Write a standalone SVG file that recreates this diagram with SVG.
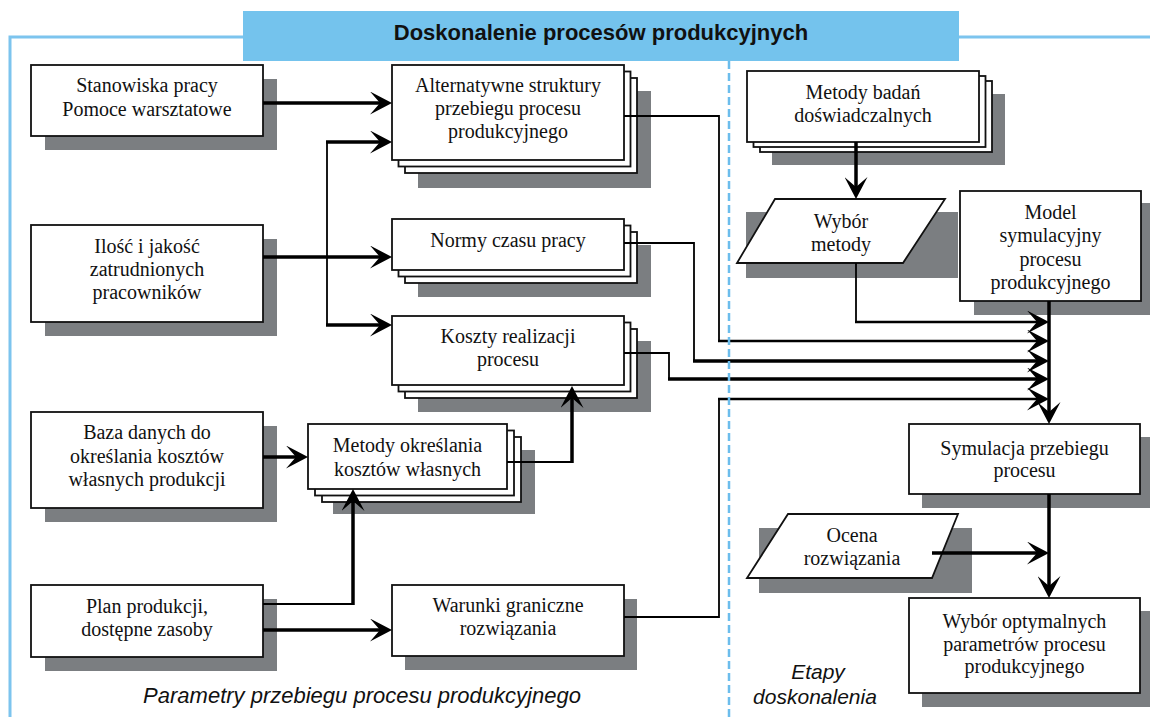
<svg xmlns="http://www.w3.org/2000/svg" width="1150" height="717" viewBox="0 0 1150 717">
<defs>
<style>
.sh{fill:#7b7e81;stroke:none}
.bx{fill:#fff;stroke:#111;stroke-width:1.8}
.t{font-family:"Liberation Serif","Times New Roman",serif;font-size:20px;fill:#111;text-anchor:middle}
.it{font-family:"Liberation Sans",Arial,sans-serif;font-size:22px;font-style:italic;fill:#111;text-anchor:middle}
.it2{font-family:"Liberation Sans",Arial,sans-serif;font-size:21px;font-style:italic;fill:#111;text-anchor:middle}
.thin{fill:none;stroke:#000;stroke-width:1.8}
.mid{fill:none;stroke:#000;stroke-width:2.6}
.thick{fill:none;stroke:#000;stroke-width:3.5}
.arr{marker-end:url(#ah)}
</style>
<marker id="ah" markerUnits="userSpaceOnUse" markerWidth="22" markerHeight="23" viewBox="0 0 22 23" refX="18" refY="11.5" orient="auto">
<path d="M22,11.5 L0,0 L10,11.5 L0,23 Z" fill="#000"/>
</marker>
</defs>
<rect width="1150" height="717" fill="#fff"/>

<g id="frame">
<path d="M10,717 V37 H243 M959,37 H1150" fill="none" stroke="#7cc4ee" stroke-width="3"/>
<rect x="243" y="11" width="716" height="50" fill="#74c3ed"/>
<text x="601" y="40" font-family="Liberation Sans,Arial,sans-serif" font-size="22" font-weight="bold" text-anchor="middle" fill="#111">Doskonalenie procesów produkcyjnych</text>
</g>

<g id="n-stanowiska">
<rect class="sh" x="45" y="79" width="232" height="71"/>
<rect class="bx" x="31" y="65" width="232" height="71"/>
<text class="t" x="147" y="92">Stanowiska pracy</text>
<text class="t" x="147" y="116">Pomoce warsztatowe</text>
</g>

<g id="n-ilosc">
<rect class="sh" x="45" y="239" width="232" height="97"/>
<rect class="bx" x="31" y="225" width="232" height="97"/>
<text class="t" x="147" y="253">Ilość i jakość</text>
<text class="t" x="147" y="276">zatrudnionych</text>
<text class="t" x="147" y="299">pracowników</text>
</g>

<g id="n-baza">
<rect class="sh" x="45" y="426" width="232" height="96"/>
<rect class="bx" x="31" y="412" width="232" height="96"/>
<text class="t" x="147" y="439">Baza danych do</text>
<text class="t" x="147" y="463">określania kosztów</text>
<text class="t" x="147" y="486">własnych produkcji</text>
</g>

<g id="n-plan">
<rect class="sh" x="45" y="599" width="232" height="72"/>
<rect class="bx" x="31" y="585" width="232" height="72"/>
<text class="t" x="147" y="613">Plan produkcji,</text>
<text class="t" x="147" y="636">dostępne zasoby</text>
</g>

<g id="n-alternatywne">
<rect class="sh" x="418" y="91" width="233" height="97"/>
<rect class="bx" x="405" y="78" width="232" height="95"/>
<rect class="bx" x="398.5" y="71.5" width="232" height="95"/>
<rect class="bx" x="392" y="65" width="232" height="95"/>
<text class="t" x="508" y="92">Alternatywne struktury</text>
<text class="t" x="508" y="115">przebiegu procesu</text>
<text class="t" x="508" y="138">produkcyjnego</text>
</g>

<g id="n-normy">
<rect class="sh" x="418" y="245" width="233" height="52"/>
<rect class="bx" x="405" y="232" width="232" height="51"/>
<rect class="bx" x="398.5" y="225.5" width="232" height="51"/>
<rect class="bx" x="392" y="219" width="232" height="51"/>
<text class="t" x="508" y="247">Normy czasu pracy</text>
</g>

<g id="n-koszty">
<rect class="sh" x="418" y="341" width="233" height="71"/>
<rect class="bx" x="405" y="329" width="232" height="69"/>
<rect class="bx" x="398.5" y="322.5" width="232" height="69"/>
<rect class="bx" x="392" y="316" width="232" height="69"/>
<text class="t" x="508" y="343">Koszty realizacji</text>
<text class="t" x="508" y="366">procesu</text>
</g>

<g id="n-metody-okreslania">
<rect class="sh" x="333" y="450" width="202" height="64"/>
<rect class="bx" x="322" y="437" width="199" height="65"/>
<rect class="bx" x="315" y="430.5" width="199" height="65"/>
<rect class="bx" x="308" y="424" width="199" height="65"/>
<text class="t" x="407.5" y="452">Metody określania</text>
<text class="t" x="407.5" y="476">kosztów własnych</text>
</g>

<g id="n-warunki">
<rect class="sh" x="405" y="599" width="232" height="71"/>
<rect class="bx" x="392" y="585" width="232" height="71"/>
<text class="t" x="508" y="612">Warunki graniczne</text>
<text class="t" x="508" y="635">rozwiązania</text>
</g>

<g id="n-metody-badan">
<rect class="sh" x="772" y="94" width="233" height="71"/>
<rect class="bx" x="760" y="81" width="232" height="71"/>
<rect class="bx" x="753.5" y="76" width="232" height="71"/>
<rect class="bx" x="747" y="71" width="232" height="71"/>
<text class="t" x="863" y="99">Metody badań</text>
<text class="t" x="863" y="122">doświadczalnych</text>
</g>

<g id="n-wybor-metody">
<rect class="sh" x="746" y="212" width="212" height="66"/>
<polygon class="bx" points="775,199 945,199 903,263 737,263"/>
<text class="t" x="841" y="228">Wybór</text>
<text class="t" x="841" y="251">metody</text>
</g>

<g id="n-model">
<rect class="sh" x="974" y="203" width="181" height="112"/>
<rect class="bx" x="960" y="191" width="181" height="110"/>
<text class="t" x="1050.5" y="219">Model</text>
<text class="t" x="1050.5" y="242">symulacyjny</text>
<text class="t" x="1050.5" y="266">procesu</text>
<text class="t" x="1050.5" y="289">produkcyjnego</text>
</g>

<g id="n-symulacja">
<rect class="sh" x="922" y="437" width="231" height="71"/>
<rect class="bx" x="909" y="424" width="231" height="70"/>
<text class="t" x="1024.5" y="455">Symulacja przebiegu</text>
<text class="t" x="1024.5" y="477">procesu</text>
</g>

<g id="n-ocena">
<rect class="sh" x="759" y="528" width="213" height="65"/>
<polygon class="bx" points="788,514 958,514 932,578 747,578"/>
<text class="t" x="852" y="542">Ocena</text>
<text class="t" x="852" y="565">rozwiązania</text>
</g>

<g id="n-wybor-optymalnych">
<rect class="sh" x="922" y="611" width="231" height="96"/>
<rect class="bx" x="909" y="598" width="231" height="95"/>
<text class="t" x="1024.5" y="628">Wybór optymalnych</text>
<text class="t" x="1024.5" y="651">parametrów procesu</text>
<text class="t" x="1024.5" y="673">produkcyjnego</text>
</g>

<g id="connectors">
<path class="thick arr" d="M263,103 H388"/>
<path class="thick arr" d="M263,257 H388"/>
<path class="thin" d="M327,142 V325"/>
<path class="thick arr" d="M326,142 H388"/>
<path class="thick arr" d="M326,325 H388"/>
<path class="thick arr" d="M263,457 H304"/>
<path class="thin" d="M263,604 H353"/>
<path class="thick arr" d="M353,605 V493"/>
<path class="thick arr" d="M263,630 H388"/>
<path class="thin" d="M507,462 H572"/>
<path class="thick arr" d="M572,463 V390"/>
<path class="thin" d="M624,116 H719 V341"/>
<path class="mid arr" d="M718,341 H1045"/>
<path class="thin" d="M624,243 H694 V361"/>
<path class="thick arr" d="M693,361 H1045"/>
<path class="thin" d="M624,353 H669 V379"/>
<path class="thick arr" d="M668,379 H1045"/>
<path class="thin" d="M624,617 H719 V399"/>
<path class="mid arr" d="M718,399 H1045"/>
<path class="thin" d="M856,263 V322"/>
<path class="mid arr" d="M855,322 H1045"/>
<path class="thick arr" d="M856,142 V195"/>
<path class="thick arr" d="M1049,301 V420"/>
<path class="thick arr" d="M1049,494 V594"/>
<path class="thick arr" d="M932,553 H1045"/>
</g>

<g id="divider">
<path d="M729,61 V717" stroke="#6cbdec" stroke-width="2.5" stroke-dasharray="8,4" fill="none"/>
</g>

<g id="labels">
<text class="it" x="362" y="703">Parametry przebiegu procesu produkcyjnego</text>
<text class="it2" x="818" y="679">Etapy</text>
<text class="it2" x="815" y="704">doskonalenia</text>
</g>
</svg>
